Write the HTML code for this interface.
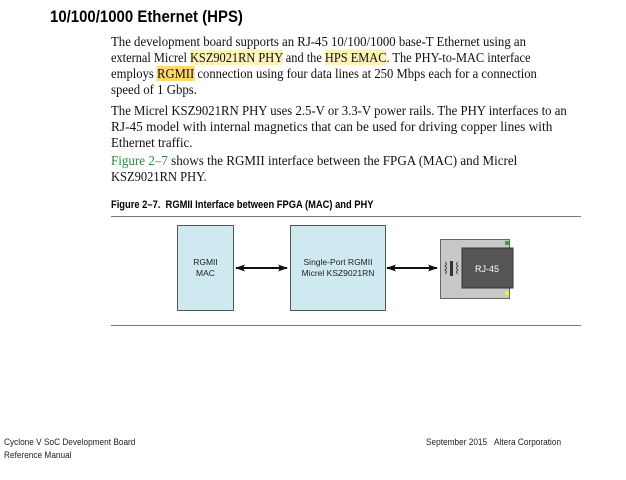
<!DOCTYPE html>
<html><head><style>
body{margin:0;width:626px;height:480px;background:#fff;position:relative;overflow:hidden}
.t{position:absolute;white-space:nowrap;font-family:"Liberation Serif",serif;font-size:13.6px;color:#111;line-height:16px;transform-origin:0 0}
.h{background:#fff3b8}
.h2{background:#ffd966}
.s{position:absolute;white-space:nowrap;font-family:"Liberation Sans",sans-serif;transform-origin:0 0}
.box{position:absolute;background:#cfe9f1;border:1px solid #555;font-family:"Liberation Sans",sans-serif;font-size:8.5px;text-align:center;color:#222;display:flex;align-items:center;justify-content:center;line-height:11px}
</style></head><body>
<div class="s" style="left:50px;top:7px;font-size:17px;font-weight:bold;transform:scaleX(0.88)">10/100/1000 Ethernet (HPS)</div>
<div class="t" style="left:111px;top:34px;transform:scaleX(0.94)">The development board supports an RJ-45 10/100/1000 base-T Ethernet using an</div>
<div class="t" style="left:111px;top:50px;transform:scaleX(0.91)">external Micrel <span class="h">KSZ9021RN PHY</span> and the <span class="h">HPS EMAC</span>. The PHY-to-MAC interface</div>
<div class="t" style="left:111px;top:66px;transform:scaleX(0.93)">employs <span class="h2">RGMII</span> connection using four data lines at 250 Mbps each for a connection</div>
<div class="t" style="left:111px;top:82px;transform:scaleX(0.94)">speed of 1 Gbps.</div>
<div class="t" style="left:111px;top:103px;transform:scaleX(0.94)">The Micrel KSZ9021RN PHY uses 2.5-V or 3.3-V power rails. The PHY interfaces to an</div>
<div class="t" style="left:111px;top:119px;transform:scaleX(0.98)">RJ-45 model with internal magnetics that can be used for driving copper lines with</div>
<div class="t" style="left:111px;top:135px;transform:scaleX(0.95)">Ethernet traffic.</div>
<div class="t" style="left:111px;top:153px;transform:scaleX(0.96)"><span style="color:#2a8a3a">Figure 2–7</span> shows the RGMII interface between the FPGA (MAC) and Micrel</div>
<div class="t" style="left:111px;top:169px;transform:scaleX(0.92)">KSZ9021RN PHY.</div>
<div class="s" style="left:111px;top:199px;font-size:11px;font-weight:bold;transform:scaleX(0.85)">Figure 2–7.&nbsp; RGMII Interface between FPGA (MAC) and PHY</div>
<div style="position:absolute;left:111px;top:216px;width:470px;height:1px;background:#777"></div>
<div style="position:absolute;left:111px;top:325px;width:470px;height:1px;background:#777"></div>
<div class="box" style="left:177px;top:225px;width:55px;height:84px">RGMII<br>MAC</div>
<div class="box" style="left:290px;top:225px;width:94px;height:84px">Single-Port RGMII<br>Micrel KSZ9021RN</div>
<svg style="position:absolute;left:0;top:0" width="626" height="480">
<defs><marker id="a" markerUnits="userSpaceOnUse" markerWidth="10" markerHeight="7" refX="9" refY="3.5" orient="auto-start-reverse"><path d="M0,0L10,3.5L0,7L2,3.5z" fill="#111"/></marker></defs>
<line x1="236" y1="268" x2="287" y2="268" stroke="#111" stroke-width="2" marker-start="url(#a)" marker-end="url(#a)"/>
<line x1="387" y1="268" x2="437" y2="268" stroke="#111" stroke-width="2" marker-start="url(#a)" marker-end="url(#a)"/>
<rect x="440.5" y="239.5" width="69" height="59" fill="#c8c8c8" stroke="#666"/>
<rect x="462" y="248" width="51" height="40" fill="#555" stroke="#333"/>
<rect x="505" y="241" width="4" height="4" fill="#3a3"/>
<rect x="505" y="291" width="4" height="4" fill="#ee5"/>
<path d="M445,262q3,2 0,4q3,2 0,4q3,2 0,4M458,262q-3,2 0,4q-3,2 0,4q-3,2 0,4" stroke="#444" fill="none"/>
<rect x="450" y="261" width="3" height="15" fill="#333"/>
<text x="487" y="272" font-family="Liberation Sans" font-size="9" fill="#fff" text-anchor="middle">RJ-45</text>
</svg>
<div class="s" style="left:4px;top:436px;font-size:9.5px;line-height:13px;color:#222;transform:scaleX(0.87)">Cyclone V SoC Development Board<br>Reference Manual</div>
<div class="s" style="left:426px;top:436px;font-size:9.5px;line-height:13px;color:#222;transform:scaleX(0.87)">September 2015&nbsp;&nbsp;&nbsp;Altera Corporation</div>
</body></html>
